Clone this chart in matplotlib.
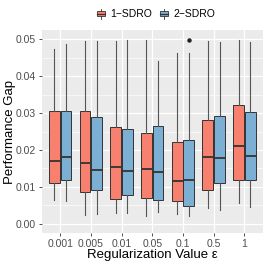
import numpy as np
import matplotlib
matplotlib.use("Agg")
import matplotlib.pyplot as plt
from matplotlib.legend_handler import HandlerBase
from matplotlib.patches import Rectangle
from matplotlib.lines import Line2D

plt.rcParams['font.family'] = ['Liberation Sans', 'DejaVu Sans']

# Regularization values (x categories)
eps_labels = ["0.001", "0.005", "0.01", "0.05", "0.1", "0.5", "1"]
methods = ["1\u2212SDRO", "2\u2212SDRO"]

# box statistics: whisker low, q1, median, q3, whisker high
sdro1_wlo = [0.0065, 0.0024, 0.0028, 0.0022, 0.0026, 0.0044, 0.0055]
sdro1_q1 = [0.0111, 0.0085, 0.0066, 0.0069, 0.0061, 0.0092, 0.0118]
sdro1_med = [0.0170, 0.0164, 0.0153, 0.0149, 0.0116, 0.0181, 0.0211]
sdro1_q3 = [0.0307, 0.0307, 0.0261, 0.0247, 0.0223, 0.0280, 0.0322]
sdro1_whi = [0.0474, 0.0496, 0.0496, 0.0497, 0.0464, 0.0495, 0.0497]
sdro1_out = [[], [], [], [], [], [], []]

sdro2_wlo = [0.0062, 0.0026, 0.0030, 0.0031, 0.0020, 0.0038, 0.0046]
sdro2_q1 = [0.0118, 0.0091, 0.0078, 0.0065, 0.0049, 0.0111, 0.0120]
sdro2_med = [0.0182, 0.0146, 0.0144, 0.0140, 0.0120, 0.0178, 0.0184]
sdro2_q3 = [0.0307, 0.0290, 0.0258, 0.0264, 0.0227, 0.0293, 0.0303]
sdro2_whi = [0.0487, 0.0494, 0.0497, 0.0440, 0.0464, 0.0493, 0.0492]
sdro2_out = [[], [], [], [], [0.0498], [], []]

colors = ["#F8806F", "#7BAFD4"]
edge = "#333333"


def make_stats(wlo, q1, med, q3, whi, out):
    return [dict(whislo=a, q1=b, med=c, q3=d, whishi=e, fliers=f)
            for a, b, c, d, e, f in zip(wlo, q1, med, q3, whi, out)]


class BoxKeyHandler(HandlerBase):
    """Small boxplot glyph for the legend, ggplot style."""

    def create_artists(self, legend, orig_handle, xdescent, ydescent,
                       width, height, fontsize, trans):
        cx = width / 2 - xdescent
        bw = width * 0.75
        rect = Rectangle((cx - bw / 2, -ydescent + height * 0.2), bw, height * 0.6,
                         facecolor=orig_handle.get_facecolor(), edgecolor=edge,
                         linewidth=0.6, transform=trans)
        med = Line2D([cx - bw / 2, cx + bw / 2], [-ydescent + height * 0.5] * 2,
                     color=edge, linewidth=0.9, transform=trans)
        w1 = Line2D([cx, cx], [-ydescent - height * 0.05, -ydescent + height * 0.2],
                    color=edge, linewidth=0.6, transform=trans)
        w2 = Line2D([cx, cx], [-ydescent + height * 0.8, -ydescent + height * 1.05],
                    color=edge, linewidth=0.6, transform=trans)
        return [rect, med, w1, w2]


fig = plt.figure(figsize=(2.66, 2.66), dpi=100)
ax = fig.add_axes([0.157, 0.124, 0.831, 0.763])
ax.set_facecolor("#EBEBEB")

x = np.arange(1, len(eps_labels) + 1)
offset = 0.19
bwidth = 0.35
all_stats = [make_stats(sdro1_wlo, sdro1_q1, sdro1_med, sdro1_q3, sdro1_whi, sdro1_out),
             make_stats(sdro2_wlo, sdro2_q1, sdro2_med, sdro2_q3, sdro2_whi, sdro2_out)]

for i, stats in enumerate(all_stats):
    pos = x + (-offset if i == 0 else offset)
    ax.bxp(stats, positions=pos, widths=bwidth, patch_artist=True,
           showcaps=False, manage_ticks=False,
           boxprops=dict(facecolor=colors[i], edgecolor=edge, linewidth=0.7),
           whiskerprops=dict(color="#555555", linewidth=0.8),
           medianprops=dict(color=edge, linewidth=1.3),
           flierprops=dict(marker="o", markersize=2.2, markerfacecolor="#222222",
                           markeredgecolor="#222222"),
           zorder=3)

# Axes limits, grid
ax.set_xlim(0.4, len(eps_labels) + 0.6)
ax.set_ylim(-0.0025, 0.0525)
ax.set_xticks(x)
ax.set_xticklabels(eps_labels)
ax.set_yticks([0.0, 0.01, 0.02, 0.03, 0.04, 0.05])
ax.set_yticklabels(["0.00", "0.01", "0.02", "0.03", "0.04", "0.05"])
ax.set_yticks([0.005, 0.015, 0.025, 0.035, 0.045], minor=True)
ax.grid(True, which="major", color="white", linewidth=0.9, zorder=0)
ax.grid(True, which="minor", axis="y", color="white", linewidth=0.45, zorder=0)
ax.set_axisbelow(True)
for s in ax.spines.values():
    s.set_visible(False)
ax.tick_params(axis="both", which="major", length=2.5, width=0.6, color="#333333",
               labelsize=7.5, labelcolor="#4D4D4D", pad=1.5)
ax.tick_params(axis="y", which="minor", length=0)

ax.set_xlabel("Regularization Value \u03b5", fontsize=9.5, labelpad=0.5)
ax.set_ylabel("Performance Gap", fontsize=9.5)
ax.yaxis.set_label_coords(-0.115, 0.5)

handles = [Rectangle((0, 0), 1, 1, facecolor=c) for c in colors]
fig.legend(handles, methods, loc="center", bbox_to_anchor=(0.585, 0.947),
           ncol=2, frameon=False, fontsize=7.5, handlelength=1.0, handleheight=1.0,
           handletextpad=0.4, columnspacing=0.6,
           handler_map={Rectangle: BoxKeyHandler()})

fig.savefig("out.png", dpi=100)
